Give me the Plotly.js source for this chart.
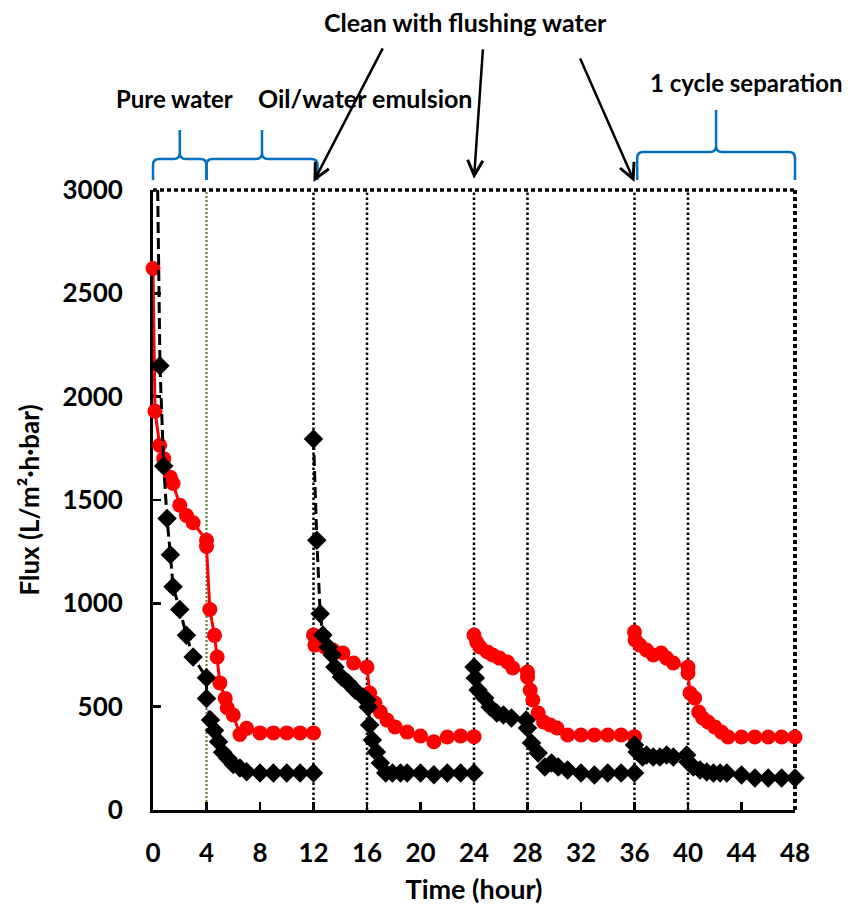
<!DOCTYPE html>
<html>
<head>
<meta charset="utf-8">
<script src="https://cdn.plot.ly/plotly-3.0.1.min.js"></script>
<style>html,body{margin:0;padding:0;background:#fff;}#chart{width:859px;height:905px;}</style>
</head>
<body>
<div id="chart"></div>
<script>
// ---- data (hours, flux L/m2.h.bar); null separates cycles ----
var timeRed = [0, 0.15, 0.5, 0.8, 1.3, 1.5, 2.0, 2.5, 3.0, 4.0, 4.0, 4.25, 4.6, 4.8, 5.0, 5.4, 5.55, 6.0, 6.5, 7.0, 8, 9, 10, 11, 12,
  null,
  12, 12.1, 12.85, 13.45, 14.2, 15.0, 16.0, 16.2, 16.6, 17.0, 17.5, 18.1, 19, 20, 21, 22, 23, 24,
  null,
  24, 24.2, 24.45, 25.0, 25.4, 25.9, 26.5, 26.9, 28.0, 28.0, 28.2, 28.4, 28.8, 29.2, 29.7, 30.2, 31, 32, 33, 34, 35, 36,
  null,
  36, 36.05, 36.4, 36.9, 37.4, 38.0, 38.4, 38.9, 40.0, 40.0, 40.15, 40.5, 40.8, 41.1, 41.5, 42.0, 42.5, 43, 44, 45, 46, 47, 48];
var fluxRed = [2620, 1930, 1765, 1700, 1610, 1580, 1475, 1425, 1390, 1305, 1275, 970, 845, 740, 615, 540, 495, 460, 365, 395, 373, 373, 373, 373, 373,
  null,
  847, 798, 789, 774, 760, 711, 692, 566, 518, 474, 435, 402, 377, 358, 330, 353, 358, 355,
  null,
  847, 813, 789, 765, 750, 735, 716, 687, 668, 644, 581, 532, 469, 426, 411, 397, 363, 363, 363, 363, 363, 355,
  null,
  861, 823, 798, 774, 750, 760, 735, 711, 692, 663, 566, 542, 474, 445, 426, 402, 377, 353, 353, 353, 353, 353, 353];

var timeBlack = [0.35, 0.52, 0.8, 1.05, 1.3, 1.5, 2.0, 2.5, 3.0, 4.0, 4.0, 4.3, 4.6, 4.9, 5.2, 5.6, 6.0, 6.5, 7.0, 8, 9, 10, 11, 12,
  null,
  12, 12.25, 12.5, 12.7, 13.1, 13.4, 13.6, 14.1, 14.6, 15.1, 15.7, 16.0, 16.1, 16.2, 16.4, 16.7, 17.0, 17.4, 17.9, 18.5, 19, 20, 21, 22, 23, 24,
  null,
  24, 24.1, 24.3, 24.8, 25.2, 25.7, 26.2, 26.8, 27.9, 28.0, 28.3, 28.8, 29.3, 29.8, 30.3, 31, 32, 33, 34, 35, 36,
  null,
  36, 36.2, 36.6, 36.9, 37.4, 37.9, 38.4, 38.9, 39.9, 40.0, 40.4, 40.9, 41.4, 41.9, 42.4, 42.9, 44, 45, 46, 47, 48];
var fluxBlack = [3000, 2150, 1665, 1410, 1235, 1080, 970, 845, 740, 640, 540, 435, 385, 330, 280, 250, 220, 203, 185, 179, 179, 179, 179, 179,
  null,
  1795, 1305, 950, 847, 789, 750, 692, 644, 615, 581, 547, 532, 498, 411, 339, 281, 227, 179, 179, 179, 179, 179, 170, 179, 179, 179,
  null,
  692, 639, 581, 542, 498, 469, 460, 445, 435, 397, 324, 276, 208, 227, 208, 194, 179, 169, 179, 179, 179,
  null,
  315, 281, 256, 266, 256, 256, 266, 256, 266, 232, 208, 194, 184, 179, 179, 179, 169, 155, 155, 155, 155];

var xTicks = [0, 4, 8, 12, 16, 20, 24, 28, 32, 36, 40, 44, 48];
var yTicks = [0, 500, 1000, 1500, 2000, 2500, 3000];
var cycleLines = [12, 16, 24, 28, 36, 40];
var pureWaterEnd = 4;

var X_MAX = 48, Y_MAX = 3000;
var FONT = 'Lato, "Open Sans", sans-serif';

// plot geometry (px)
var PL = 153, PT = 190, PW = 642, PH = 620;

var traces = [
  {
    x: timeRed, y: fluxRed, type: 'scatter', mode: 'lines+markers',
    connectgaps: false, cliponaxis: false, showlegend: false,
    line: {color: '#ff0000', width: 3},
    marker: {symbol: 'circle', size: 15, color: '#ff0000', opacity: 1}
  },
  {
    x: timeBlack, y: fluxBlack, type: 'scatter', mode: 'lines+markers',
    connectgaps: false, cliponaxis: false, showlegend: false,
    line: {color: '#000000', width: 3, dash: '11px,5px'},
    marker: {symbol: 'diamond', color: '#000000', opacity: 1, line: {width: 0},
      size: fluxBlack.map(function (v) { return (v !== null && v >= Y_MAX) ? 0 : 15; })}
  }
];

var shapes = [];
cycleLines.forEach(function (h) {
  shapes.push({type: 'line', xref: 'x', yref: 'y', x0: h, x1: h, y0: 0, y1: Y_MAX, layer: 'below',
    line: {color: '#000', width: 2.5, dash: '2.5px,2.5px'}});
});
shapes.push({type: 'line', xref: 'x', yref: 'y', x0: pureWaterEnd, x1: pureWaterEnd, y0: 0, y1: Y_MAX, layer: 'below',
  line: {color: '#4f7a28', width: 2, dash: '2px,2px'}});
// dotted top & right frame (paper refs so they are not clipped)
shapes.push({type: 'line', xref: 'paper', yref: 'paper', x0: 0, x1: 1, y0: 1, y1: 1, layer: 'below',
  line: {color: '#000', width: 3.5, dash: '4px,3px'}});
shapes.push({type: 'line', xref: 'paper', yref: 'paper', x0: 1, x1: 1, y0: 0, y1: 1, layer: 'below',
  line: {color: '#000', width: 4, dash: '4px,3px'}});

// braces (paper coords)
function brace(h0, h1, pyEnd, pyH, pyTip) {
  var r = 6;
  var x0 = h0 / X_MAX, x1 = h1 / X_MAX, xc = (x0 + x1) / 2;
  var rx = r / PW, ry = r / PH;
  var Y = function (py) { return (PT + PH - py) / PH; };
  var yE = Y(pyEnd), yH = Y(pyH), yT = Y(pyTip);
  var f = function (v) { return v.toFixed(5); };
  var p = 'M' + f(x0) + ',' + f(yE) + ' L' + f(x0) + ',' + f(yH - ry) +
    ' Q' + f(x0) + ',' + f(yH) + ' ' + f(x0 + rx) + ',' + f(yH) +
    ' L' + f(xc - rx) + ',' + f(yH) +
    ' Q' + f(xc) + ',' + f(yH) + ' ' + f(xc) + ',' + f(yH + ry) +
    ' L' + f(xc) + ',' + f(yT) +
    ' M' + f(xc) + ',' + f(yH + ry) +
    ' Q' + f(xc) + ',' + f(yH) + ' ' + f(xc + rx) + ',' + f(yH) +
    ' L' + f(x1 - rx) + ',' + f(yH) +
    ' Q' + f(x1) + ',' + f(yH) + ' ' + f(x1) + ',' + f(yH - ry) +
    ' L' + f(x1) + ',' + f(yE);
  return {type: 'path', xref: 'paper', yref: 'paper', path: p, layer: 'above',
    line: {color: '#0070c0', width: 2.5}};
}
shapes.push(brace(0, 4, 180, 159, 130));
shapes.push(brace(4, 12.3, 180, 159, 130));
shapes.push(brace(36.2, 48, 180, 152, 110));

var labelFont = {family: FONT, size: 24, color: '#000'};
var annotations = [
  {text: '<b>Clean with flushing water</b>', xref: 'paper', yref: 'paper', x: 0.486, y: 1.271,
    xanchor: 'center', yanchor: 'middle', showarrow: false, font: {family: FONT, size: 25, color: '#000'}},
  {text: '<b>Pure water</b>', xref: 'paper', yref: 'paper', x: 0.034, y: 1.148,
    xanchor: 'center', yanchor: 'middle', showarrow: false, font: labelFont},
  {text: '<b>Oil/water emulsion</b>', xref: 'paper', yref: 'paper', x: 0.330, y: 1.148,
    xanchor: 'center', yanchor: 'middle', showarrow: false, font: {family: FONT, size: 25, color: '#000'}},
  {text: '<b>1 cycle separation</b>', xref: 'paper', yref: 'paper', x: 0.925, y: 1.174,
    xanchor: 'center', yanchor: 'middle', showarrow: false, font: labelFont}
];
[[12, 1.013, 70, -135], [24, 1.018, 9, -131], [36, 1.013, -55, -125]].forEach(function (a) {
  annotations.push({text: '', xref: 'x', yref: 'paper', x: a[0], y: a[1], ax: a[2], ay: a[3],
    showarrow: true, arrowhead: 5, arrowsize: 1.2, arrowwidth: 2.5, arrowcolor: '#000'});
});

var layout = {
  width: 859, height: 905,
  margin: {l: PL, r: 859 - PL - PW, t: PT, b: 905 - PT - PH, pad: 0},
  paper_bgcolor: '#fff', plot_bgcolor: '#fff',
  showlegend: false,
  font: {family: FONT, color: '#000'},
  xaxis: {
    range: [0, X_MAX], tickvals: xTicks, ticktext: xTicks.map(String),
    showgrid: false, zeroline: false, showline: true, linecolor: '#000', linewidth: 3,
    ticks: 'inside', ticklen: 8, tickwidth: 2.5, tickcolor: '#000',
    tickfont: {family: FONT, size: 26, color: '#000', weight: 700}, ticklabelstandoff: 18,
    layer: 'below traces',
    title: {text: '<b>Time (hour)</b>', font: {family: FONT, size: 27, color: '#000'}, standoff: 14}
  },
  yaxis: {
    range: [0, Y_MAX], tickvals: yTicks, ticktext: yTicks.map(String),
    showgrid: false, zeroline: false, showline: true, linecolor: '#000', linewidth: 3,
    ticks: 'inside', ticklen: 8, tickwidth: 2.5, tickcolor: '#000',
    tickfont: {family: FONT, size: 26, color: '#000', weight: 700}, ticklabelstandoff: 22,
    layer: 'below traces',
    title: {text: '<b>Flux (L/m²·h·bar)</b>', font: {family: FONT, size: 26, color: '#000'}, standoff: 16}
  },
  shapes: shapes,
  annotations: annotations
};

Plotly.newPlot('chart', traces, layout, {displayModeBar: false, staticPlot: true});
</script>
</body>
</html>
